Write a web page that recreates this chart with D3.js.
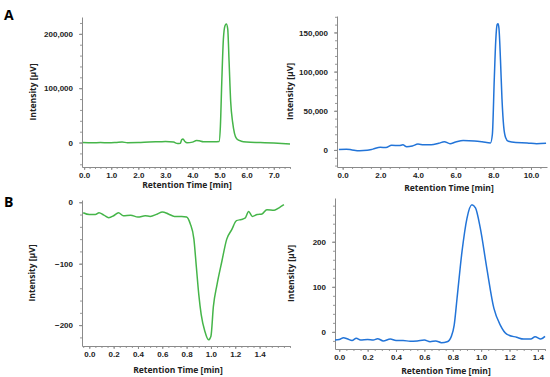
<!DOCTYPE html>
<html>
<head>
<meta charset="utf-8">
<script src="https://cdn.jsdelivr.net/npm/d3@7"></script>
<style>
  body { margin: 0; background: #fff; }
  svg { display: block; font-family: "Open Sans", "Liberation Sans", sans-serif; }
  .tick text { font-weight: 700; fill: #222; }
</style>
</head>
<body>
<svg id="chart" width="550" height="377"></svg>
<script>
// DATA  (retention time [min], intensity [µV])
const traceA1 = [
  [-0.05, 0], [0.3, -500], [0.6, 0], [0.9, -400], [1.2, 300], [1.4, 900], [1.6, -300],
  [2.0, 0], [2.4, 1000], [2.8, 1500], [3.0, 1800], [3.3, 800], [3.45, -1800], [3.55, -1500],
  [3.6, 5000], [3.65, 6500], [3.72, 2000], [3.8, -500], [4.0, 800], [4.15, 3800], [4.25, 3200],
  [4.4, 1500], [4.8, 1500], [4.98, 2000], [5.03, 30000], [5.08, 110000], [5.14, 190000],
  [5.2, 215000], [5.25, 218000], [5.3, 209000], [5.35, 150000], [5.41, 75000], [5.48, 38000],
  [5.55, 17000], [5.63, 7000], [5.8, 2500], [6.0, 1000], [6.5, 0], [7.0, -1000], [7.6, -2500]
];
const traceA2 = [
  [-0.2, 500], [0.2, 1000], [0.5, 0], [0.9, -1000], [1.3, -500], [1.6, 1000], [2.0, 3500],
  [2.3, 3000], [2.6, 6000], [3.0, 5500], [3.2, 6500], [3.4, 4000], [3.7, 5000], [4.0, 7500],
  [4.3, 6500], [4.7, 6500], [5.1, 8500], [5.4, 10500], [5.7, 8000], [6.0, 10000], [6.4, 12000],
  [7.0, 11500], [7.4, 10500], [7.85, 9000], [7.95, 20000], [8.05, 90000], [8.13, 140000],
  [8.2, 160000], [8.25, 161000], [8.3, 155000], [8.38, 115000], [8.46, 65000], [8.55, 30000],
  [8.65, 16000], [8.8, 11000], [9.2, 9500], [9.8, 9000], [10.3, 8000], [10.8, 8500]
];
const traceB1 = [
  [-0.05, -17], [0.0, -20], [0.05, -20], [0.08, -17], [0.12, -21], [0.16, -25], [0.2, -22],
  [0.24, -17], [0.28, -22], [0.34, -21], [0.4, -24], [0.46, -22], [0.5, -23], [0.56, -19],
  [0.6, -16], [0.65, -19], [0.7, -23], [0.76, -23], [0.8, -24], [0.83, -35], [0.86, -60],
  [0.88, -105], [0.9, -150], [0.92, -183], [0.95, -210], [0.98, -224], [1.0, -218],
  [1.02, -170], [1.05, -134], [1.09, -96], [1.13, -60], [1.17, -45], [1.21, -30], [1.25, -28],
  [1.28, -26], [1.31, -15], [1.34, -23], [1.38, -20], [1.42, -19], [1.46, -12], [1.52, -13],
  [1.56, -9], [1.6, -4]
];
const traceB2 = [
  [-0.03, -18], [0.0, -17], [0.03, -13], [0.06, -16], [0.09, -19], [0.12, -14], [0.15, -18],
  [0.2, -17], [0.24, -18], [0.27, -15], [0.31, -20], [0.36, -16], [0.4, -19], [0.45, -19],
  [0.5, -21], [0.55, -20], [0.6, -18], [0.64, -22], [0.68, -20], [0.72, -24], [0.76, -22],
  [0.79, -10], [0.81, 15], [0.83, 74], [0.865, 178], [0.9, 252], [0.935, 282], [0.96, 275],
  [0.994, 230], [1.04, 141], [1.09, 52], [1.135, 15], [1.18, -5], [1.25, -12], [1.3, -16],
  [1.35, -16], [1.38, -11], [1.42, -16], [1.45, -10]
];

const ticksTimeA1 = [0, 1, 2, 3, 4, 5, 6, 7];
const ticksTimeA2 = [0, 2, 4, 6, 8, 10];
const ticksTimeB = [0, 0.2, 0.4, 0.6, 0.8, 1.0, 1.2, 1.4];
const ticksIntA1 = [0, 100000, 200000];
const ticksIntA2 = [0, 50000, 100000, 150000];
const ticksIntB1 = [0, -100, -200];
const ticksIntB2 = [0, 100, 200];

const GREEN = "#45b549", BLUE = "#2274d8";

// PANELS  (box = axis frame in px)
const panels = [
  { data: traceA1, color: GREEN, box: [82, 17, 290, 167], xd: [-0.08, 7.6], yd: [-45000, 231000],
    xt: ticksTimeA1, xm: 0.2, yt: ticksIntA1, ym: 20000, yf: d3.format(","), tx: 187, ty: 188, lx: 36 },
  { data: traceA2, color: BLUE, box: [337, 16, 547, 167], xd: [-0.3, 10.85], yd: [-21800, 171000],
    xt: ticksTimeA2, xm: 0.5, yt: ticksIntA2, ym: 10000, yf: d3.format(","), tx: 449, ty: 191, lx: 293 },
  { data: traceB1, color: GREEN, box: [82, 200, 290, 346], xd: [-0.06, 1.65], yd: [-234, 3.7],
    xt: ticksTimeB, xm: 0.05, yt: ticksIntB1, ym: 20, yf: d3.format("d"), tx: 178, ty: 373, lx: 35 },
  { data: traceB2, color: BLUE, box: [335, 198, 545, 349], xd: [-0.03, 1.45], yd: [-38, 297],
    xt: ticksTimeB, xm: 0.05, yt: ticksIntB2, ym: 20, yf: d3.format("d"), tx: 446, ty: 374, lx: 294 }
];

const svg = d3.select("#chart");

function minorTicks(domain, step) {
  const out = [];
  const start = Math.ceil(domain[0] / step - 1e-9);
  const end = Math.floor(domain[1] / step + 1e-9);
  for (let i = start; i <= end; i++) out.push(+(i * step).toFixed(6));
  return out;
}

panels.forEach((p) => {
  const [x0, y0, x1, y1] = p.box;
  const x = d3.scaleLinear().domain(p.xd).range([x0, x1]);
  const y = d3.scaleLinear().domain(p.yd).range([y1, y0]);
  const g = svg.append("g");

  // minor ticks
  g.append("g")
    .attr("transform", `translate(0,${y1})`)
    .call(d3.axisBottom(x).tickValues(minorTicks(p.xd, p.xm)).tickSize(2).tickFormat(""))
    .call((a) => a.select(".domain").remove())
    .call((a) => a.selectAll("line").attr("stroke", "#999"));
  g.append("g")
    .attr("transform", `translate(${x0},0)`)
    .call(d3.axisLeft(y).tickValues(minorTicks(p.yd, p.ym)).tickSize(2).tickFormat(""))
    .call((a) => a.select(".domain").remove())
    .call((a) => a.selectAll("line").attr("stroke", "#999"));

  // major axes
  const xa = g.append("g")
    .attr("transform", `translate(0,${y1})`)
    .call(d3.axisBottom(x).tickValues(p.xt).tickSize(3).tickSizeOuter(0).tickPadding(2).tickFormat(d3.format(".1f")));
  const ya = g.append("g")
    .attr("transform", `translate(${x0},0)`)
    .call(d3.axisLeft(y).tickValues(p.yt).tickSize(3).tickSizeOuter(0).tickPadding(6).tickFormat(p.yf));
  [xa, ya].forEach((a) => {
    a.select(".domain").attr("stroke", "#8a8a8a");
    a.selectAll(".tick line").attr("stroke", "#8a8a8a");
    a.selectAll(".tick text").attr("font-size", 8);
  });

  // trace
  g.append("path")
    .datum(p.data)
    .attr("fill", "none")
    .attr("stroke", p.color)
    .attr("stroke-width", 1.5)
    .attr("stroke-linejoin", "round")
    .attr("d", d3.line().x((d) => x(d[0])).y((d) => y(d[1])).curve(d3.curveMonotoneX));

  // axis titles
  g.append("text")
    .attr("x", p.tx).attr("y", p.ty)
    .attr("text-anchor", "middle")
    .attr("font-size", 8.5).attr("font-weight", 700).attr("fill", "#222")
    .text("Retention Time [min]");
  g.append("text")
    .attr("transform", `translate(${p.lx},${(y0 + y1) / 2}) rotate(-90)`)
    .attr("text-anchor", "middle")
    .attr("font-size", 8.5).attr("font-weight", 700).attr("fill", "#222")
    .text("Intensity [µV]");
});

// panel letters
svg.append("text").attr("x", 4).attr("y", 20).attr("font-size", 14).attr("font-weight", 700).text("A");
svg.append("text").attr("x", 4).attr("y", 207).attr("font-size", 14).attr("font-weight", 700).text("B");
</script>
</body>
</html>
